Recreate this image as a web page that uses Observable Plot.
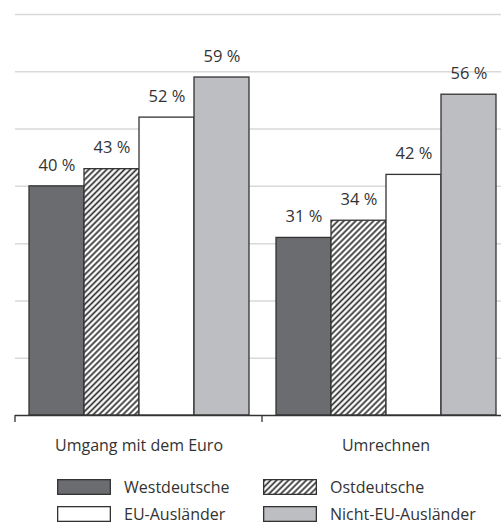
<!DOCTYPE html>
<html>
<head>
<meta charset="utf-8">
<script src="https://cdn.jsdelivr.net/npm/d3@7"></script>
<script src="https://cdn.jsdelivr.net/npm/@observablehq/plot@0.6"></script>
<style>
  body { margin: 0; background: #fff; font-family: "Open Sans", sans-serif; color: #333; }
  #wrap { width: 501px; height: 525px; overflow: hidden; position: relative; }
  #legend { display: grid; grid-template-columns: 206px 1fr; margin-left: 57px; margin-top: 13px; row-gap: 0; }
  .item { display: flex; align-items: center; height: 27px; font-size: 16px; }
  .item svg { margin-right: 13px; flex: none; }
</style>
</head>
<body>
<svg width="0" height="0" style="position:absolute">
  <defs>
    <pattern id="hatch" patternUnits="userSpaceOnUse" width="4.2" height="4.2" patternTransform="rotate(45)">
      <rect width="4.2" height="4.2" fill="#fff"></rect>
      <line x1="2.1" y1="0" x2="2.1" y2="4.2" stroke="#2e2e2e" stroke-width="1.7"></line>
    </pattern>
  </defs>
</svg>
<div id="wrap">
  <div id="chart"></div>
  <div id="legend"></div>
</div>
<script>
const groups = ["Umgang mit dem Euro", "Umrechnen"];
const series = ["Westdeutsche", "Ostdeutsche", "EU-Ausländer", "Nicht-EU-Ausländer"];
const valuesEuro = [40, 43, 52, 59];
const valuesUmrechnen = [31, 34, 42, 56];
const colors = ["#6b6c70", "url(#hatch)", "#ffffff", "#bdbec2"];
const gridTicks = [10, 20, 30, 40, 50, 60, 70];
const legendOrder = ["Westdeutsche", "Ostdeutsche", "EU-Ausländer", "Nicht-EU-Ausländer"];

const valuesByGroup = [valuesEuro, valuesUmrechnen];
const data = groups.flatMap((g, gi) =>
  series.map((s, si) => ({group: g, series: s, value: valuesByGroup[gi][si]}))
);

const plot = Plot.plot({
  width: 501,
  height: 460,
  marginTop: 14,
  marginBottom: 45,
  marginLeft: 15,
  marginRight: -8,
  style: {fontFamily: "Open Sans", fontSize: "16px", color: "#333", background: "#fff", overflow: "hidden"},
  fx: {domain: groups, padding: 0, label: null, axis: "bottom", tickSize: 0, tickPadding: 24},
  x: {domain: series, axis: null, paddingInner: 0, paddingOuter: 0.245},
  y: {domain: [0, 70], axis: null},
  color: {domain: series, range: colors},
  marks: [
    Plot.ruleY(gridTicks, {stroke: "#d9d9d9", strokeWidth: 1.5}),
    Plot.barY(data, {fx: "group", x: "series", y: "value", fill: "series", stroke: "#333", strokeWidth: 1.3}),
    Plot.text(data, {fx: "group", x: "series", y: "value", text: d => d.value + " %", dy: -21, fill: "#333", fontSize: 16.5}),
    Plot.ruleY([0], {stroke: "#333", strokeWidth: 1.3})
  ]
});
document.getElementById("chart").appendChild(plot);

// group boundary ticks on the baseline, from the fx and y scales
const fx = plot.scale("fx");
const ys = plot.scale("y");
const y0 = ys.apply(0);
const bounds = groups.map(g => fx.apply(g));
bounds.push(fx.apply(groups[groups.length - 1]) + fx.bandwidth);
d3.select(plot).append("g")
  .selectAll("line").data(bounds).join("line")
  .attr("x1", d => d).attr("x2", d => d)
  .attr("y1", y0).attr("y2", y0 + 7)
  .attr("stroke", "#333").attr("stroke-width", 1.3);

// legend
const legend = d3.select("#legend");
legendOrder.forEach(name => {
  const c = colors[series.indexOf(name)];
  const item = legend.append("div").attr("class", "item");
  const sw = item.append("svg").attr("width", 54).attr("height", 16);
  sw.append("rect").attr("x", 0.65).attr("y", 0.65).attr("width", 52.7).attr("height", 14.7)
    .attr("fill", c).attr("stroke", "#333").attr("stroke-width", 1.3);
  item.append("span").text(name);
});
</script>
</body>
</html>
